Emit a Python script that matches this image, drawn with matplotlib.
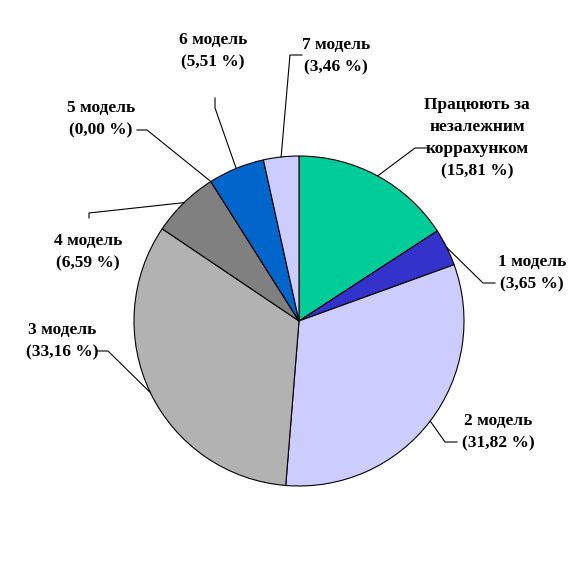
import matplotlib.pyplot as plt
import numpy as np

# slice names and shares (%), clockwise from the top
names = ["Працюють за\nнезалежним\nкоррахунком", "1 модель", "2 модель", "3 модель",
         "4 модель", "5 модель", "6 модель", "7 модель"]
shares = [15.81, 3.65, 31.82, 33.16, 6.59, 0.00, 5.51, 3.46]
colors = ["#00CC99", "#3333CC", "#CCCCFF", "#B2B2B2", "#808080", "#FFFFFF", "#0066CC", "#CCCCFF"]

H = 587


def px(x, y):
    # picture pixels (y down) -> axes units (y up)
    return x, H - y


# label centres and leader line bends, in picture pixels
text_pos = [(477, 138), (532, 273), (498, 432), (62, 341), (88, 252), (101, 119), (213, 51), (336, 56)]
bends = [
    [(415, 148), (427, 148)],
    [(483, 283), (495, 283)],
    [(445, 442), (457, 442)],
    [(108, 351), (97, 351)],
    [(89, 213), (89, 218)],
    [(147, 130), (137, 130)],
    [(215, 108), (215, 98)],
    [(290, 55), (302, 55)],
]

fig = plt.figure(figsize=(5.87, 5.87), dpi=100)
ax = fig.add_axes([0, 0, 1, 1])
ax.axis("off")

center = px(299, 321)
radius = 165
wedges, _ = ax.pie(shares, colors=colors, startangle=90, counterclock=False,
                   center=center, radius=radius, normalize=True,
                   wedgeprops=dict(edgecolor="black", linewidth=0.8))
ax.set_xlim(0, H)
ax.set_ylim(0, H)
ax.set_aspect("equal")

for w, name, share, tp, bend in zip(wedges, names, shares, text_pos, bends):
    mid = np.radians((w.theta1 + w.theta2) / 2)
    ex = center[0] + radius * np.cos(mid)
    ey = center[1] + radius * np.sin(mid)
    pts = [(ex, ey)] + [px(*b) for b in bend]
    xs, ys = zip(*pts)
    ax.plot(xs, ys, color="black", linewidth=0.8)
    label = name + "\n" + f"({share:.2f} %)".replace(".", ",")
    ax.text(*px(*tp), label, ha="center", va="center", multialignment="center",
            family="Liberation Serif", fontweight="bold", fontsize=12.5, linespacing=1.5)

fig.savefig("out.png", dpi=100)
